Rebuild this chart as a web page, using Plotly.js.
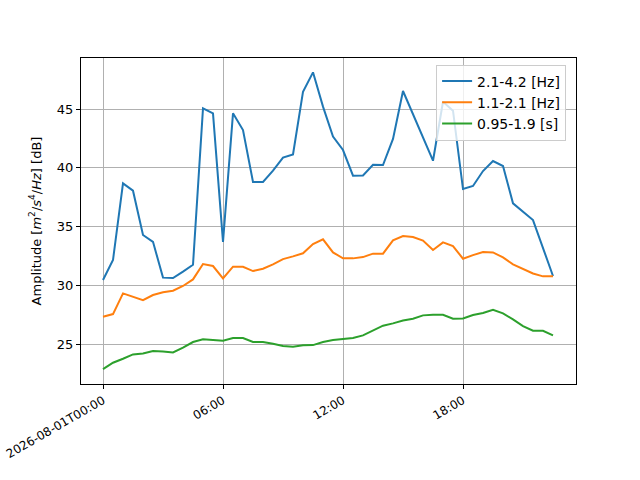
<!DOCTYPE html>
<html>
<head>
<meta charset="utf-8">
<script src="https://cdn.plot.ly/plotly-3.0.1.min.js"></script>
<style>
  body { margin: 0; background: #fff; }
  #chart { width: 640px; height: 480px; }
</style>
</head>
<body>
<div id="chart"></div>
<script>
// half-hour samples starting 2026-08-01 00:00
const startTime = '2026-08-01T00:00:00';
const nSamples = 46;

const band1 = [30.45, 32.15, 38.67, 38.05, 34.28, 33.7, 30.65, 30.62, 31.16, 31.75,
    45.05, 44.63, 33.7, 44.63, 43.21, 38.79, 38.79, 39.75, 40.86, 41.14,
    46.47, 48.12, 45.2, 42.65, 41.51, 39.33, 39.35, 40.26, 40.23, 42.45,
    46.53, null, null, 40.6, 45.62, 44.86, 38.19, 38.45, 39.72, 40.57,
    40.15, 36.97, null, 35.55, null, 30.79];

const band2 = [27.33, 27.55, 29.31, 29.03, 28.74, 29.17, 29.4, 29.54, 29.94, 30.5,
    31.81, 31.64, 30.59, 31.58, 31.58, 31.21, 31.41, 31.78, 32.23, 32.46,
    32.72, 33.51, 33.91, 32.8, 32.29, 32.29, 32.4, 32.69, 32.69, 33.82,
    34.19, 34.11, 33.8, 33.0, 33.65, 33.34, 32.26, 32.57, 32.83, 32.8,
    32.37, 31.78, 31.36, 31.0, 30.76, 30.76];

const band3 = [22.87, 23.41, 23.75, 24.12, 24.2, 24.4, 24.37, 24.29, 24.69, 25.17,
    25.4, 25.37, 25.28, 25.51, 25.51, 25.17, 25.17, 25.03, 24.83, 24.77,
    24.89, 24.91, 25.17, 25.34, 25.43, 25.51, 25.74, 26.13, 26.56, 26.76,
    27.01, 27.15, 27.44, 27.49, 27.49, 27.15, 27.18, 27.47, 27.64, 27.92,
    27.61, 27.1, 26.53, 26.13, 26.13, 25.74];

const seriesNames = ['2.1-4.2 [Hz]', '1.1-2.1 [Hz]', '0.95-1.9 [s]'];
const seriesColors = ['#1f77b4', '#ff7f0e', '#2ca02c'];

const tickVals = ['2026-08-01 00:00', '2026-08-01 06:00', '2026-08-01 12:00', '2026-08-01 18:00'];
const tickText = ['2026-08-01T00:00', '06:00', '12:00', '18:00'];

const t0 = new Date(startTime + 'Z').getTime();
const times = [];
for (let i = 0; i < nSamples; i++) {
    times.push(new Date(t0 + i * 30 * 60 * 1000).toISOString().slice(0, 19).replace('T', ' '));
}

const data = [band1, band2, band3].map((ys, i) => ({
    x: times,
    y: ys,
    type: 'scatter',
    mode: 'lines',
    name: seriesNames[i],
    connectgaps: true,
    line: { color: seriesColors[i], width: 2 }
}));

const layout = {
    width: 640,
    height: 480,
    margin: { l: 81, r: 64, t: 58, b: 96 },
    paper_bgcolor: '#fff',
    plot_bgcolor: '#fff',
    font: { family: 'DejaVu Sans', size: 13, color: '#000' },
    showlegend: true,
    legend: {
        x: 0.98, y: 0.98, xanchor: 'right', yanchor: 'top',
        bgcolor: 'rgba(255,255,255,0.8)',
        bordercolor: '#cccccc', borderwidth: 1,
        font: { size: 14 },
        tracegroupgap: 0
    },
    xaxis: {
        type: 'date',
        range: ['2026-07-31 22:54', '2026-08-01 23:39'],
        tickvals: tickVals,
        ticktext: tickText,
        tickangle: -30,
        tickfont: { size: 12 },
        showgrid: true, gridcolor: '#b0b0b0', gridwidth: 1,
        showline: true, linecolor: '#000', linewidth: 1, mirror: true,
        ticks: 'outside', ticklen: 4, tickcolor: '#000',
        zeroline: false
    },
    yaxis: {
        range: [21.6, 49.34],
        tickvals: [25, 30, 35, 40, 45],
        tickfont: { size: 13 },
        showgrid: true, gridcolor: '#b0b0b0', gridwidth: 1,
        showline: true, linecolor: '#000', linewidth: 1, mirror: true,
        ticks: 'outside', ticklen: 4, tickcolor: '#000',
        zeroline: false,
        title: {
            text: 'Amplitude [<i>m</i><sup>2</sup>/<i>s</i><sup>4</sup>/<i>Hz</i>] [dB]',
            font: { size: 13 },
            standoff: 12
        }
    }
};

Plotly.newPlot('chart', data, layout, { displayModeBar: false, staticPlot: true });
</script>
</body>
</html>
